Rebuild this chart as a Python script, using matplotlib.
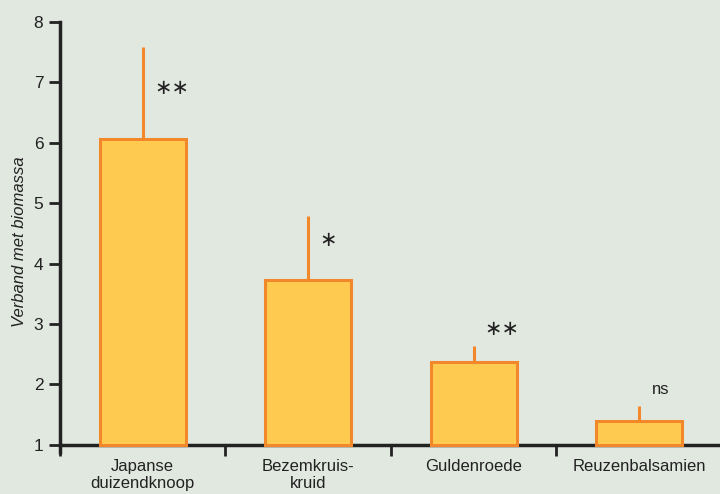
import matplotlib
matplotlib.use("Agg")
import matplotlib.pyplot as plt
import numpy as np

categories = ["Japanse\nduizendknoop", "Bezemkruis-\nkruid", "Guldenroede", "Reuzenbalsamien"]
means = [6.06, 3.72, 2.37, 1.40]
upper = [7.58, 4.78, 2.63, 1.64]
signif = ["**", "*", "**", "ns"]
yticks = [1, 2, 3, 4, 5, 6, 7, 8]

plt.rcParams['font.family'] = ['Liberation Sans Narrow', 'Liberation Sans', 'DejaVu Sans']

bg = '#E1E8E0'
fill = '#FECB50'
edge = '#F3882A'
ink = '#222222'

fig = plt.figure(figsize=(7.2, 4.94), dpi=100, facecolor=bg)
ax = fig.add_axes([60/720, 42/494, 1 - 60/720, 430/494], facecolor=bg)

x = np.arange(len(categories))
base = 1.0
ax.bar(x, np.array(means) - base, bottom=base, width=0.52, color=fill,
       edgecolor=edge, linewidth=2.2, zorder=3)
ax.vlines(x, means, upper, color=edge, linewidth=2.2, zorder=2)

dx = [0.175, 0.12, 0.17, 0.13]
dy = [-0.68, -0.39, 0.29, 0.27]
for xi, u, s, ox, oy in zip(x, upper, signif, dx, dy):
    if s == "ns":
        ax.text(xi + ox, u + oy, s, ha='center', va='center', fontsize=12, color=ink)
    else:
        ax.text(xi + ox, u + oy, s.replace("*", "\u2217"), ha='center', va='center',
                fontsize=15, color=ink, family=['DejaVu Sans'])

ax.set_xlim(-0.5, 3.49)
ax.set_ylim(0.88, 8)
ax.set_yticks(yticks)
ax.set_yticklabels([str(t) for t in yticks])
ax.set_xticks(x)
ax.set_xticklabels(categories, linespacing=1.1)
ax.set_xticks(np.arange(-0.5, 3.5, 1.0), minor=True)
ax.tick_params(axis='x', which='major', length=0, pad=10, labelsize=12, colors=ink)
ax.tick_params(axis='x', which='minor', length=8, width=2, direction='out', color=ink)
ax.tick_params(axis='y', length=8, width=2, direction='out', labelsize=12.5, colors=ink, pad=4)

for s in ['top', 'right']:
    ax.spines[s].set_visible(False)
for s in ['left', 'bottom']:
    ax.spines[s].set_linewidth(2.5)
    ax.spines[s].set_color(ink)
ax.spines['bottom'].set_position(('data', 1))

ax.set_ylabel("Verband met biomassa", fontsize=12, style='italic', color=ink)
ax.yaxis.set_label_coords((27 - 60) / 660, 0.49)

fig.savefig("out.png", dpi=100, facecolor=bg)
